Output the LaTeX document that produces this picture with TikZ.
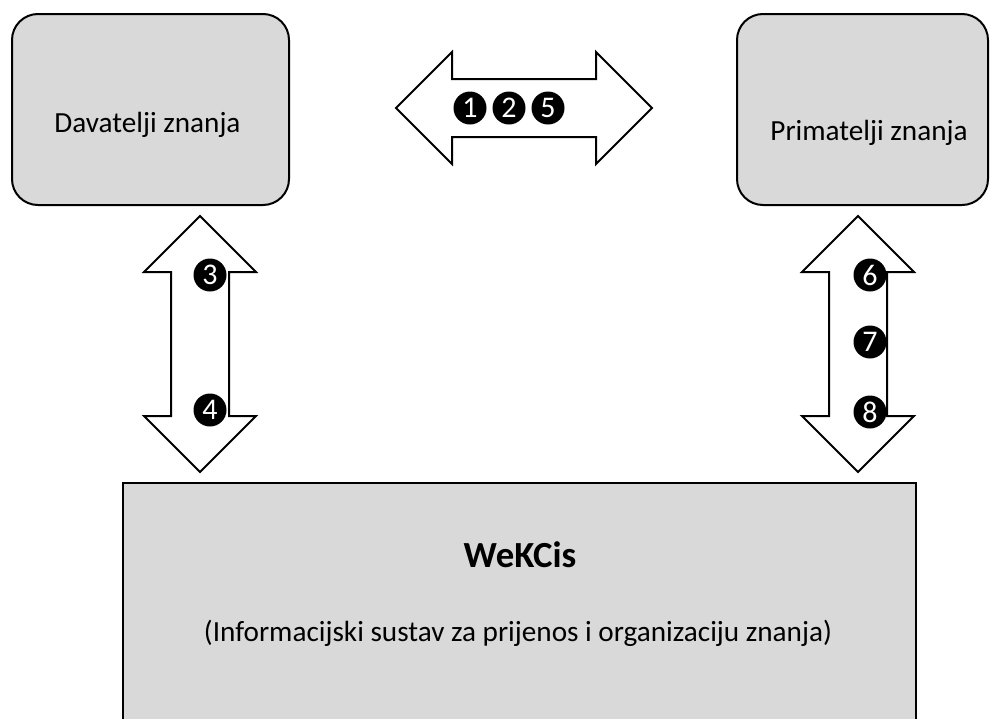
\documentclass[tikz,border=0pt]{standalone}
\usepackage{fontspec}
\setmainfont{Carlito}
\usetikzlibrary{shapes.arrows}

\definecolor{boxgrey}{HTML}{D9D9D9}

\begin{document}
\begin{tikzpicture}[
   x=0.5pt,y=-0.5pt,
   font=\fontsize{14.6}{17}\selectfont,
   party/.style={draw,line width=1pt,fill=boxgrey,rounded corners=13pt,
      minimum height=95.5pt,inner sep=0pt},
   system/.style={draw,line width=1pt,fill=boxgrey,inner sep=0pt},
   dblarrow/.style={draw,line width=1pt,fill=white,double arrow,
      double arrow head extend=13.5pt,minimum height=128pt,minimum width=55pt,
      inner xsep=0pt,inner ysep=14pt},
   num/.style={circle,fill=black,text=white,inner sep=0pt,minimum size=16.5pt,
      font=\fontsize{15}{15}\selectfont},
   every node/.style={anchor=center}]
\useasboundingbox (0,0) rectangle (991,718);
\clip (0,0) rectangle (991,718);
% the two parties and the system below
\node[party,minimum width=138.5pt] (dav) at (150.5,109.5) {};
\node[party,minimum width=125.5pt] (prim) at (862.5,109.5) {};
\node[system,minimum width=396.5pt,minimum height=140pt] (wek) at (519.5,623) {};
\node[anchor=base] (davtxt) at (147.5,132) {Davatelji znanja};
\node[anchor=base] (primtxt) at (869,140) {Primatelji znanja};
\node[anchor=base,font=\fontsize{18.4}{20}\selectfont\bfseries] (wektxt) at (520,567) {WeKCis};
\node[anchor=base] (wekdesc) at (518,641) {(Informacijski sustav za prijenos i organizaciju znanja)};
% exchange arrows
\node[dblarrow] (top) at (524,108) {};
\node[dblarrow,rotate=90] (left) at (200,344) {};
\node[dblarrow,rotate=90] (right) at (858,344) {};
% numbered steps
\node[num] (n1) at (470,108) {1};
\node[num] (n2) at (509,108) {2};
\node[num] (n5) at (548,108) {5};
\node[num] (n3) at (210,275) {3};
\node[num] (n4) at (210,410) {4};
\node[num] (n6) at (870,275) {6};
\node[num] (n7) at (870,342) {7};
\node[num] (n8) at (870,412) {8};
\end{tikzpicture}
\end{document}
